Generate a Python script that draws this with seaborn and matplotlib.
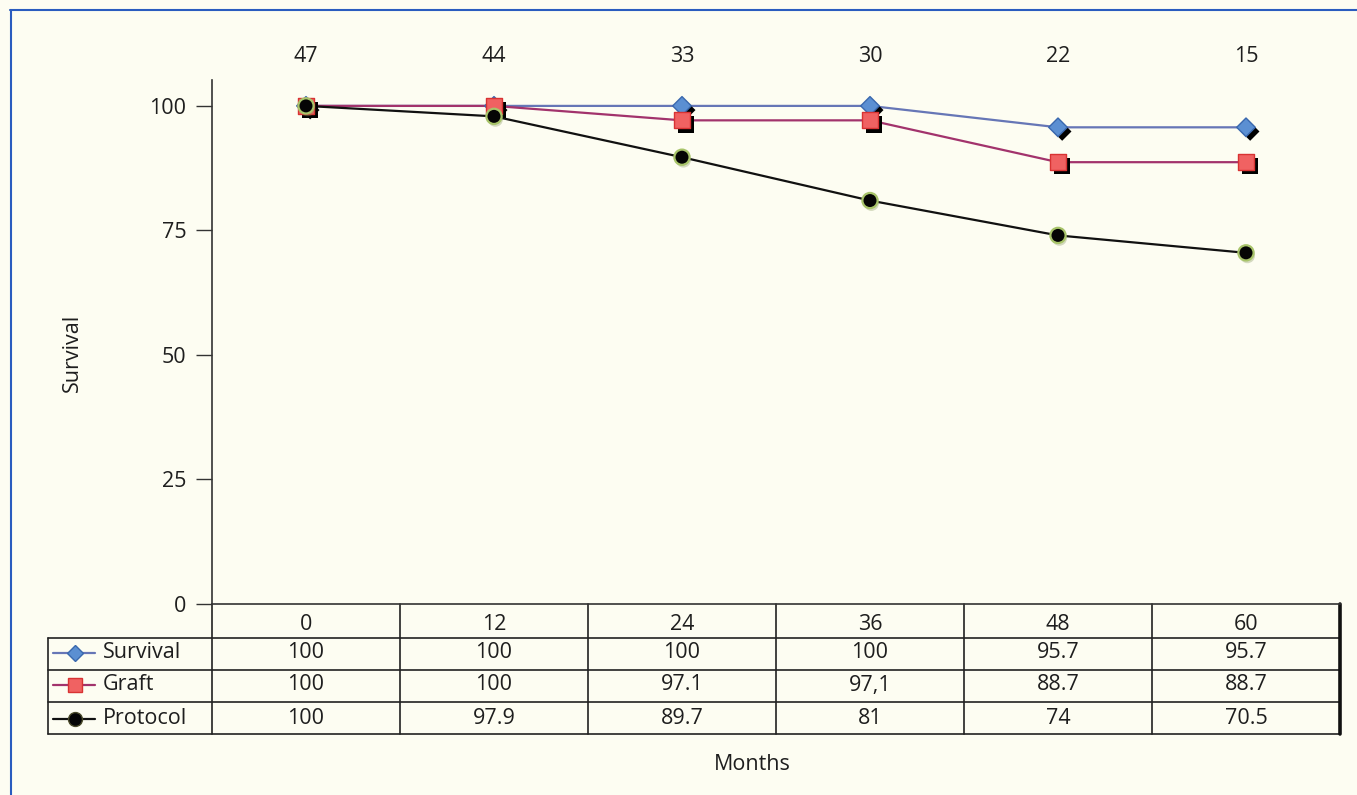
import numpy as np
import seaborn as sns
import matplotlib.pyplot as plt
import matplotlib.patheffects as pe
from matplotlib.lines import Line2D
from matplotlib.transforms import blended_transform_factory

# data
months = [0, 12, 24, 36, 48, 60]
at_risk = [47, 44, 33, 30, 22, 15]
survival = [100, 100, 100, 100, 95.7, 95.7]
graft = [100, 100, 97.1, 97.1, 88.7, 88.7]
protocol = [100, 97.9, 89.7, 81, 74, 70.5]
survival_text = ["100", "100", "100", "100", "95.7", "95.7"]
graft_text = ["100", "100", "97.1", "97,1", "88.7", "88.7"]
protocol_text = ["100", "97.9", "89.7", "81", "74", "70.5"]
y_ticks = [0, 25, 50, 75, 100]

W, H = 1357, 795
BG = '#fdfdf2'
INK = '#1e1e1e'
FS = 15.5

sns.set_style('white')
plt.rcParams['font.family'] = ['Open Sans', 'DejaVu Sans']
plt.rcParams['font.size'] = FS


def fx(px):
    return px / W


def fy(py):
    return 1 - py / H


fig = plt.figure(figsize=(W / 100, H / 100), dpi=100, facecolor=BG)
ax = fig.add_axes([fx(212), fy(604), fx(1340) - fx(212), fy(80) - fy(604)])
ax.set_facecolor(BG)

series = [
    ('Survival', survival, survival_text,
     dict(line='#6676b6', marker='D', s=90, face='#5b8fd2', edge='#3a68ae', lw=1.0,
          ms=8, legend_edge='#3a68ae')),
    ('Graft', graft, graft_text,
     dict(line='#a2336c', marker='s', s=135, face='#f06262', edge='#d83333', lw=1.0,
          ms=10, legend_edge='#d83333')),
    ('Protocol', protocol, protocol_text,
     dict(line='#111111', marker='o', s=120, face='#050505', edge='#a8c46a', lw=1.6,
          ms=10, legend_edge='#4a4a2a')),
]

pos = np.arange(len(months))

# lines first, then markers on top
for name, vals, _, st in series:
    sns.lineplot(x=pos, y=vals, ax=ax, color=st['line'], linewidth=1.6, zorder=2)

for name, vals, _, st in series:
    if st['marker'] == 'o':
        effects = [pe.SimplePatchShadow(offset=(1, -2), shadow_rgbFace='#8a9a60', alpha=0.35), pe.Normal()]
    else:
        effects = [pe.SimplePatchShadow(offset=(3, -3), shadow_rgbFace='black', alpha=1.0), pe.Normal()]
    sns.scatterplot(x=pos, y=vals, ax=ax, marker=st['marker'], s=st['s'], color=st['face'],
                    edgecolor=st['edge'], linewidth=st['lw'], zorder=3,
                    path_effects=effects, clip_on=False)

ax.set_xlim(-0.5, len(months) - 0.5)
ax.set_ylim(0, 105.2)
ax.set_xticks([])
ax.set_yticks(y_ticks)
ax.set_xlabel('')
ax.set_ylabel('')
ax.tick_params(axis='y', left=True, direction='out', length=11.5, width=1.0,
               pad=7, labelsize=FS, color='#333333', labelcolor=INK)
for side in ['top', 'right']:
    ax.spines[side].set_visible(False)
for side in ['left', 'bottom']:
    ax.spines[side].set_color('#333333')
    ax.spines[side].set_linewidth(1.2)

# numbers at risk above the plot
tr_data = blended_transform_factory(ax.transData, fig.transFigure)
tr_axes = blended_transform_factory(ax.transAxes, fig.transFigure)
for i, n in enumerate(at_risk):
    ax.text(i, fy(57), str(n), transform=tr_data, ha='center', va='center',
            fontsize=FS, color=INK)

# table under the axis
row_lines = [638, 670, 702, 734]
left_edge = (48 - 212) / (1340 - 212)
for py in row_lines:
    ax.add_line(Line2D([left_edge, 1], [fy(py), fy(py)], transform=tr_axes,
                       color='#222222', lw=1.2, clip_on=False))
ax.add_line(Line2D([left_edge, left_edge], [fy(638), fy(734)], transform=tr_axes,
                   color='#222222', lw=1.2, clip_on=False))
for i in range(-1, len(months)):
    last = i == len(months) - 1
    ax.add_line(Line2D([i + 0.5, i + 0.5], [fy(604), fy(734)], transform=tr_data,
                       color='#111111' if last else '#222222', lw=2.6 if last else 1.2,
                       clip_on=False))

for i, m in enumerate(months):
    ax.text(i, fy(625), str(m), transform=tr_data, ha='center', va='center',
            fontsize=FS, color=INK)

row_centers = [653, 685, 719]
for (name, vals, texts, st), yc in zip(series, row_centers):
    for i, t in enumerate(texts):
        ax.text(i, fy(yc), t, transform=tr_data, ha='center', va='center',
                fontsize=FS, color=INK)
    fig.add_artist(Line2D([fx(53), fx(95)], [fy(yc), fy(yc)], color=st['line'], lw=1.6))
    fig.add_artist(Line2D([fx(75)], [fy(yc)], marker=st['marker'], markersize=st['ms'],
                          markerfacecolor=st['face'], markeredgecolor=st['legend_edge'],
                          markeredgewidth=1.0, linestyle='none'))
    fig.text(fx(103), fy(yc), name, ha='left', va='center', fontsize=FS, color=INK)

fig.text(fx(72), fy(353), 'Survival', rotation=90, ha='center', va='center',
         fontsize=FS, color=INK)
fig.text(fx(752), fy(764), 'Months', ha='center', va='center', fontsize=FS, color=INK)

# blue frame at top and left
fig.add_artist(Line2D([fx(10), 1], [fy(9.5), fy(9.5)], color='#2a5cbf', lw=1.5))
fig.add_artist(Line2D([fx(10.5), fx(10.5)], [fy(9.5), 0], color='#2a5cbf', lw=1.5))

fig.savefig('out.png', dpi=100, facecolor=BG)
